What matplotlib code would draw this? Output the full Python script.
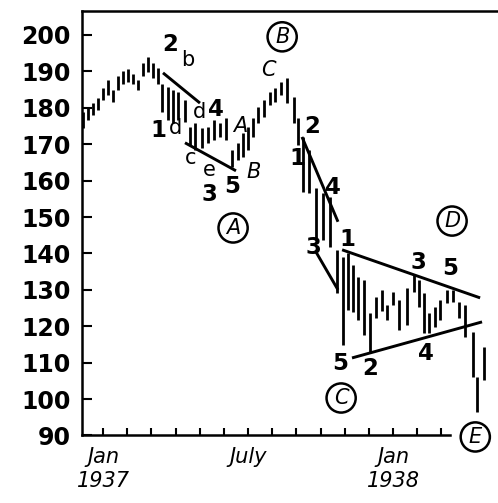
import matplotlib
matplotlib.use("Agg")
import matplotlib.pyplot as plt
import numpy as np

# weekly bars, x in months from Jan 1937
weeks = [-0.83, -0.62, -0.41, -0.21, 0.00, 0.21, 0.41, 0.62, 0.83, 1.03,
         1.24, 1.45, 1.65, 1.86, 2.07, 2.28, 2.44, 2.69, 2.90, 3.10,
         3.39, 3.60, 3.81, 4.10, 4.34, 4.59, 4.84, 5.09, 5.34, 5.59,
         5.79, 6.00, 6.21, 6.41, 6.66, 6.91, 7.12, 7.36, 7.61, 7.90,
         8.07, 8.27, 8.52, 8.81, 9.10, 9.39, 9.68, 9.93, 10.14, 10.34,
         10.55, 10.80, 11.05, 11.30, 11.54, 11.75, 12.00, 12.25, 12.58, 12.87,
         13.07, 13.28, 13.49, 13.74, 13.94, 14.23, 14.48, 14.73, 14.98, 15.31,
         15.47, 15.76]
highs = [178.9, 180.2, 181.3, 182.7, 185.5, 187.7, 185.0, 188.8, 190.1, 190.7,
         189.3, 187.7, 192.4, 194.0, 192.4, 191.0, 186.5, 185.7, 185.0, 184.4,
         182.2, 174.8, 175.9, 174.5, 174.8, 176.7, 175.9, 177.2, 168.4, 170.4,
         173.1, 174.8, 177.2, 180.2, 182.2, 184.4, 185.5, 187.1, 188.3, 183.0,
         177.2, 172.0, 168.4, 158.0, 156.6, 155.5, 141.0, 139.0, 140.1, 136.8,
         133.5, 132.7, 123.7, 128.0, 129.9, 125.8, 129.4, 127.2, 130.5, 134.1,
         132.7, 129.1, 123.7, 125.3, 127.2, 129.9, 129.9, 126.7, 125.8, 118.4,
         106.1, 114.3]
lows = [174.5, 176.7, 178.0, 179.5, 182.2, 183.5, 181.7, 185.0, 186.5, 187.1,
        186.5, 185.0, 188.8, 189.9, 188.3, 186.5, 178.9, 176.7, 175.9, 176.7,
        176.2, 169.8, 168.4, 169.0, 170.4, 171.2, 172.1, 171.2, 163.8, 165.7,
        166.5, 168.4, 172.1, 175.9, 177.5, 180.8, 181.7, 183.5, 181.3, 175.9,
        169.8, 156.9, 156.6, 144.3, 143.7, 141.8, 129.1, 114.9, 124.5, 123.9,
        121.7, 117.6, 112.9, 122.3, 124.2, 121.7, 125.8, 119.0, 120.4, 129.4,
        125.3, 118.2, 118.2, 119.8, 121.7, 126.4, 126.7, 122.3, 117.1, 106.1,
        96.5, 105.2]

yticks = [90, 100, 110, 120, 130, 140, 150, 160, 170, 180, 190, 200]
month_ticks = list(range(15))
month_labels = ['Jan\n1937', '', '', '', '', '', 'July', '', '', '', '', '',
                'Jan\n1938', '', '']

# wave labels: text, month, value, style
wave_labels = [
    ('2', 2.77, 197.3, 'b'), ('b', 3.52, 193.2, 'n'),
    ('1', 2.28, 173.9, 'b'), ('d', 2.98, 174.5, 'n'),
    ('d', 4.01, 178.9, 'n'), ('4', 4.68, 179.4, 'b'),
    ('A', 5.67, 175.0, 'i'), ('c', 3.64, 166.2, 'n'),
    ('e', 4.39, 162.9, 'n'), ('3', 4.39, 156.1, 'b'),
    ('5', 5.34, 158.3, 'b'), ('B', 6.21, 162.4, 'i'),
    ('C', 6.83, 190.4, 'i'), ('2', 8.65, 174.8, 'b'),
    ('1', 8.03, 166.2, 'b'), ('4', 9.52, 158.0, 'b'),
    ('3', 8.69, 141.5, 'b'), ('1', 10.10, 143.7, 'b'),
    ('3', 13.03, 137.4, 'b'), ('5', 14.36, 136.0, 'b'),
    ('5', 9.81, 109.9, 'b'), ('2', 11.05, 108.5, 'b'),
    ('4', 13.36, 112.4, 'b'),
]
circled = [('A', 5.38, 147.0), ('B', 7.41, 199.5), ('C', 9.85, 100.3),
           ('D', 14.44, 148.9), ('E', 15.40, 89.6)]

trend_lines = [
    ([2.48, 4.01], [189.6, 181.3]),
    ([3.39, 5.50], [170.4, 162.7]),
    ([8.23, 9.72], [172.0, 148.7]),
    ([8.81, 9.72], [140.4, 130.0]),
    ([9.89, 15.60], [141.0, 127.8]),
    ([10.30, 15.68], [111.3, 121.2]),
]

fig = plt.figure(figsize=(4.98, 5.03), dpi=100)
ax = fig.add_axes([0.1647, 0.1342, 0.8353, 0.8440])

ax.vlines(weeks, lows, highs, color='black', lw=2.0)

for xs, ys in trend_lines:
    ax.plot(xs, ys, color='black', lw=2.1, solid_capstyle='butt')

for txt, x, y, st in wave_labels:
    if st == 'b':
        ax.text(x, y, txt, fontsize=16.5, fontweight='bold', ha='center', va='center')
    elif st == 'i':
        ax.text(x, y, txt, fontsize=15, fontstyle='italic', ha='center', va='center')
    else:
        ax.text(x, y, txt, fontsize=15, ha='center', va='center')

for txt, x, y in circled:
    ax.text(x, y, txt, fontsize=15, fontstyle='italic', ha='center', va='center',
            clip_on=False,
            bbox=dict(boxstyle='circle,pad=0.22', fc='white', ec='black', lw=1.8))

ax.set_xlim(-0.87, 16.34)
ax.set_ylim(90, 206.6)

ax.set_yticks(yticks)
ax.set_yticklabels([str(t) for t in yticks], fontsize=17, fontweight='bold')
ax.set_xticks(month_ticks)
ax.set_xticklabels(month_labels, fontsize=15, fontstyle='italic', linespacing=1.3)

ax.tick_params(axis='y', direction='in', length=7, width=1.5, pad=8)
ax.tick_params(axis='x', direction='in', length=5, width=1.5, pad=8)

for s in ['left', 'top', 'bottom']:
    ax.spines[s].set_linewidth(1.8)
ax.spines['right'].set_visible(False)
ax.spines['bottom'].set_bounds(-0.87, 14.35)

fig.savefig('out.png', dpi=100)
